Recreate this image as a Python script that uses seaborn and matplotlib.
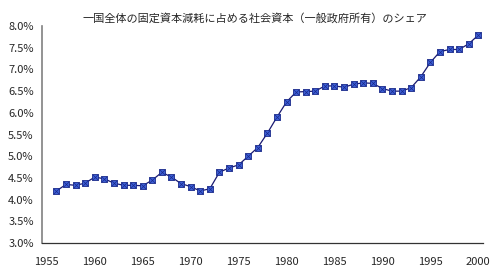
import numpy as np
import pandas as pd
import matplotlib
matplotlib.use("Agg")
import matplotlib.pyplot as plt
import seaborn as sns
from matplotlib.ticker import FixedLocator, FuncFormatter

years = list(range(1956, 2001))
share = [4.20, 4.35, 4.33, 4.38, 4.52, 4.48, 4.38, 4.33, 4.33, 4.32,
         4.45, 4.63, 4.52, 4.37, 4.30, 4.20, 4.25, 4.63, 4.73, 4.80,
         5.00, 5.20, 5.53, 5.90, 6.25, 6.48, 6.49, 6.50, 6.62, 6.62,
         6.59, 6.66, 6.69, 6.68, 6.56, 6.50, 6.50, 6.58, 6.83, 7.16,
         7.41, 7.46, 7.46, 7.59, 7.79]
title = "一国全体の固定資本減耗に占める社会資本（一般政府所有）のシェア"
xtick_labels = [1955, 1960, 1965, 1970, 1975, 1980, 1985, 1990, 1995, 2000]
ytick_values = [3.0, 3.5, 4.0, 4.5, 5.0, 5.5, 6.0, 6.5, 7.0, 7.5, 8.0]

df = pd.DataFrame({"year": years, "share": share})

sns.set_style("white")
plt.rcParams['font.family'] = ['Noto Sans CJK JP', 'DejaVu Sans']

fig = plt.figure(figsize=(4.97, 2.8), dpi=100)
ax = fig.add_axes([0.0845, 0.132, 0.8875, 0.775])

sns.lineplot(data=df, x="year", y="share", ax=ax, color="#1a1a70", linewidth=0.9,
             marker="s", markersize=4.3, markerfacecolor="#3d5fd6",
             markeredgecolor="#1a2a8a", markeredgewidth=0.6)
ax.plot(df["year"], df["share"], linestyle="none", marker="x", markersize=4.3,
        color="#1a2a8a", markeredgewidth=0.5)

ax.set_xlim(1954.5, 2000.5)
ax.set_ylim(3.0, 8.0)
ax.xaxis.set_major_locator(FixedLocator(xtick_labels))
ax.xaxis.set_minor_locator(FixedLocator([y + 0.5 for y in range(1954, 2001)]))
ax.yaxis.set_major_locator(FixedLocator(ytick_values))
ax.yaxis.set_major_formatter(FuncFormatter(lambda v, p: f"{v:.1f}%"))
ax.tick_params(axis="x", which="major", length=0, pad=10, labelsize=8)
ax.tick_params(axis="x", which="minor", length=3, width=0.7, color="#333333", direction="out")
ax.tick_params(axis="y", which="major", length=3, width=0.7, color="#808080",
               direction="out", labelsize=8, pad=3)
ax.set_xlabel("")
ax.set_ylabel("")
for s in ["top", "right"]:
    ax.spines[s].set_visible(False)
ax.spines["left"].set_color("#808080")
ax.spines["left"].set_linewidth(1.2)
ax.spines["bottom"].set_color("#333333")
ax.spines["bottom"].set_linewidth(0.9)
for line in ax.lines:
    line.set_clip_on(False)

fig.text(0.513, 0.935, title, ha="center", va="center", fontsize=8)

fig.savefig("out.png", dpi=100)
